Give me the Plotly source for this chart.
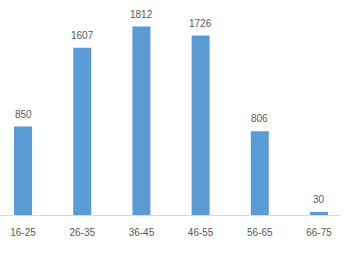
import plotly.graph_objects as go

categories = ["16-25", "26-35", "36-45", "46-55", "56-65", "66-75"]
values = [850, 1607, 1812, 1726, 806, 30]

bar_color = "#5B9BD5"
text_color = "#595959"
font_family = "Liberation Sans, Arial, sans-serif"

fig = go.Figure(
    go.Bar(
        x=categories,
        y=values,
        marker=dict(color=bar_color, line=dict(width=0)),
        hoverinfo="skip",
    )
)

for c, v in zip(categories, values):
    fig.add_annotation(
        x=c, y=v, text=str(v), showarrow=False,
        yanchor="bottom", yshift=5,
        font=dict(size=10, color=text_color, family=font_family),
    )

fig.update_layout(
    width=349, height=262,
    margin=dict(l=0, r=9, t=7, b=47),
    paper_bgcolor="white", plot_bgcolor="white",
    bargap=0.696,
    showlegend=False,
    font=dict(family=font_family, size=10, color=text_color),
)
fig.update_xaxes(
    type="category",
    range=[-0.389, 5.355],
    showline=True, linecolor="#D9D9D9", linewidth=1,
    showgrid=False, zeroline=False,
    ticks="", ticklabelstandoff=8,
    tickfont=dict(size=10, color=text_color, family=font_family),
)
fig.update_yaxes(
    range=[0, 2000], visible=False, showgrid=False, zeroline=False,
)

fig.write_html("out.html")
